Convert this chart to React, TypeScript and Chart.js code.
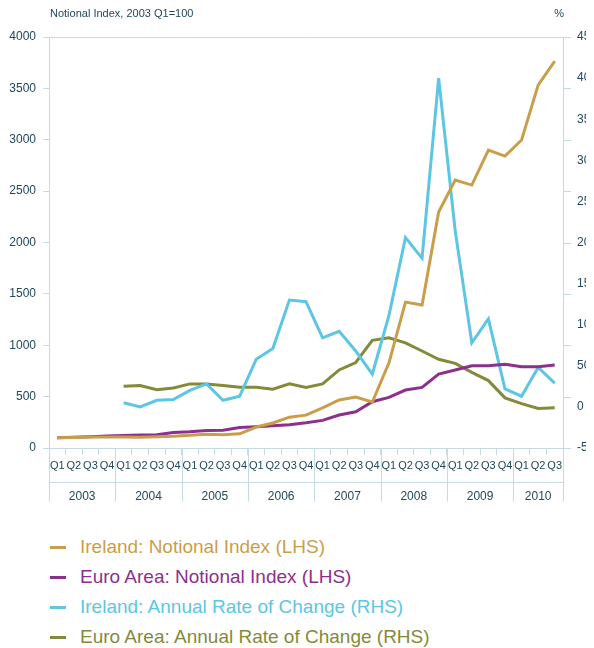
import React, { useEffect, useRef } from 'react';
import { Chart, registerables } from 'chart.js';

Chart.register(...registerables);

const years = ['2003', '2004', '2005', '2006', '2007', '2008', '2009', '2010'];
const quartersPerYear = [4, 4, 4, 4, 4, 4, 4, 3];
const quarterNames = ['Q1', 'Q2', 'Q3', 'Q4'];

const irelandIndex = [100, 103, 106, 108, 106, 104, 110, 115, 125, 135, 128, 138, 204, 243, 300, 320, 390, 467, 496, 448, 827, 1420, 1391, 2296, 2608, 2559, 2900, 2841, 2997, 3532, 3766];
const euroIndex = [100, 104, 110, 118, 122, 127, 130, 150, 158, 170, 172, 200, 207, 217, 227, 246, 269, 321, 353, 450, 493, 564, 590, 720, 759, 801, 801, 814, 791, 791, 807];
const irelandRate = [null, null, null, null, 5, 0, 8, 9, 20, 28, 8, 13, 58, 71, 130, 128, 84, 92, 68, 40, 111, 206, 181, 400, 214, 78, 107, 22, 13, 48, 29];
const euroRate = [null, null, null, null, 25, 26, 21, 23, 28, 28, 26, 24, 24, 21.5, 28, 23.5, 28, 45, 54, 81, 84, 78, 68, 58, 53, 42, 32, 11, 4, -2, -1];

const seriesNames = [
  'Ireland: Notional Index (LHS)',
  'Euro Area: Notional Index (LHS)',
  'Ireland: Annual Rate of Change (RHS)',
  'Euro Area: Annual Rate of Change (RHS)',
];
const seriesColors = ['#c99e4b', '#8c2f8e', '#5cc6e4', '#838a3a'];

const leftTitle = 'Notional Index, 2003 Q1=100';
const rightTitle = '%';

const TEXT = '#21495a';
const AXIS = '#c5dbe3';
const FONT = "'Liberation Sans', Arial, Helvetica, sans-serif";

const quarterLabels: string[] = [];
quartersPerYear.forEach((n) => {
  for (let i = 0; i < n; i++) quarterLabels.push(quarterNames[i]);
});

const decorPlugin = {
  id: 'decor',
  afterDraw(chart: any) {
    const { ctx, chartArea, scales } = chart;
    const x = scales.x;
    const yL = scales.y;
    ctx.save();
    ctx.strokeStyle = AXIS;
    ctx.lineWidth = 1;
    const line = (x1: number, y1: number, x2: number, y2: number) => {
      ctx.beginPath();
      ctx.moveTo(x1, y1);
      ctx.lineTo(x2, y2);
      ctx.stroke();
    };
    // right-side tick marks aligned with left axis ticks
    yL.ticks.forEach((t: any) => {
      const py = Math.round(yL.getPixelForValue(t.value)) + 0.5;
      line(chartArea.right, py, chartArea.right + 8, py);
    });
    // year row
    const w = x.getPixelForValue(1) - x.getPixelForValue(0);
    const top = chartArea.bottom;
    const hl = Math.round(x.bottom) + 0.5;
    const bot = hl + 19;
    line(chartArea.left, hl, chartArea.right, hl);
    let start = 0;
    ctx.fillStyle = TEXT;
    ctx.font = `12px ${FONT}`;
    ctx.textAlign = 'center';
    ctx.textBaseline = 'middle';
    const bx0 = Math.round(x.getPixelForValue(0) - w / 2) + 0.5;
    line(bx0, top, bx0, bot);
    years.forEach((yr, k) => {
      const n = quartersPerYear[k];
      const l = x.getPixelForValue(start) - w / 2;
      const r = x.getPixelForValue(start + n - 1) + w / 2;
      const rx = Math.round(r) + 0.5;
      line(rx, top, rx, bot);
      ctx.fillText(yr, (l + r) / 2, hl + 14);
      start += n;
    });
    // header texts
    ctx.font = `11px ${FONT}`;
    ctx.textBaseline = 'middle';
    ctx.textAlign = 'left';
    ctx.fillText(leftTitle, chartArea.left + 1, 6);
    ctx.textAlign = 'right';
    ctx.fillText(rightTitle, chartArea.right + 1, 6);
    ctx.restore();
  },
};

export default function App() {
  const ref = useRef<HTMLCanvasElement | null>(null);
  useEffect(() => {
    if (!ref.current) return;
    const data = [irelandIndex, euroIndex, irelandRate, euroRate];
    const axes = ['y', 'y', 'y1', 'y1'];
    const chart = new Chart(ref.current, {
      type: 'line',
      data: {
        labels: quarterLabels,
        datasets: data.map((d, i) => ({
          label: seriesNames[i],
          data: d as any,
          borderColor: seriesColors[i],
          backgroundColor: seriesColors[i],
          borderWidth: 3,
          pointRadius: 0,
          tension: 0,
          yAxisID: axes[i],
        })),
      },
      options: {
        responsive: false,
        animation: false,
        devicePixelRatio: 1,
        layout: { padding: { top: 29, bottom: 26, left: 0, right: 0 } },
        plugins: { legend: { display: false }, tooltip: { enabled: false } },
        scales: {
          x: {
            type: 'category',
            offset: true,
            grid: { offset: true, drawOnChartArea: false, color: AXIS, tickLength: 7 },
            border: { display: true, color: AXIS },
            ticks: { color: TEXT, font: { family: FONT, size: 11 }, maxRotation: 0, autoSkip: false, padding: 4 },
            afterFit: (s: any) => { s.height = 34; },
          },
          y: {
            position: 'left',
            min: 0,
            max: 4000,
            ticks: { stepSize: 500, color: TEXT, font: { family: FONT, size: 12 }, padding: 7, callback: (v: any) => String(v) },
            grid: {
              color: (c: any) => (c.tick && (c.tick.value === 0 || c.tick.value === 4000) ? AXIS : 'rgba(0,0,0,0)'),
              tickColor: AXIS,
              tickLength: 6,
            },
            border: { display: true, color: AXIS },
            afterFit: (s: any) => { s.width = 41; },
          },
          y1: {
            position: 'right',
            min: -50,
            max: 450,
            ticks: { stepSize: 50, color: TEXT, font: { family: FONT, size: 12 }, padding: 14, callback: (v: any) => String(v) },
            grid: { drawOnChartArea: false, drawTicks: false },
            border: { display: true, color: AXIS },
            afterFit: (s: any) => { s.width = 55; },
          },
        },
      } as any,
      plugins: [decorPlugin],
    });
    return () => chart.destroy();
  }, []);

  return (
    <div>
      <div style={{ width: 586, overflow: 'hidden' }}>
        <canvas ref={ref} width={610} height={500} style={{ display: 'block', width: 610, height: 500 }} />
      </div>
      <div style={{ marginTop: 24, fontFamily: FONT, fontSize: 19 }}>
        {seriesNames.map((name, i) => (
          <div key={name} style={{ display: 'flex', alignItems: 'center', height: 30, paddingLeft: 42 }}>
            <span style={{ display: 'inline-block', width: 16, height: 3, background: seriesColors[i], marginRight: 14 }} />
            <span style={{ color: seriesColors[i] }}>{name}</span>
          </div>
        ))}
      </div>
    </div>
  );
}
